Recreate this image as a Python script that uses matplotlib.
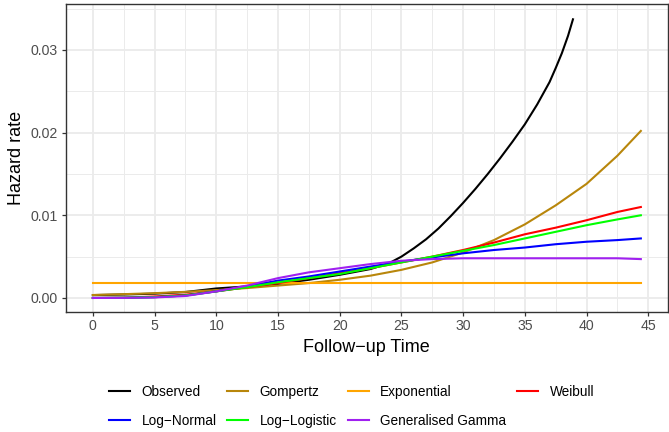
import matplotlib
matplotlib.use("Agg")
import matplotlib.pyplot as plt
from matplotlib.ticker import MultipleLocator, FormatStrFormatter

plt.rcParams['font.family'] = ['Liberation Sans', 'DejaVu Sans']

# Follow-up time grid for the fitted hazard curves
t_fit = [0, 2.5, 5, 7.5, 10, 12.5, 15, 17.5, 20, 22.5, 25, 27.5, 30,
         32.5, 35, 37.5, 40, 42.5, 44.4]

gompertz = [0.00036, 0.00046, 0.00058, 0.00074, 0.00095, 0.0012, 0.0015,
            0.0018, 0.0022, 0.0027, 0.0034, 0.0043, 0.0055, 0.0070, 0.0089,
            0.0112, 0.0138, 0.0172, 0.0202]
exponential = [0.00185] * len(t_fit)
weibull = [0.0, 0.00004, 0.00018, 0.0004, 0.0008, 0.0013, 0.0018, 0.0024,
           0.0030, 0.0036, 0.0043, 0.0050, 0.0058, 0.0067, 0.0077, 0.0085,
           0.0094, 0.0104, 0.0110]
log_normal = [0.0, 0.00002, 0.0001, 0.0003, 0.0008, 0.0014, 0.0021, 0.0026,
              0.0032, 0.0038, 0.0044, 0.0049, 0.0054, 0.0058, 0.0061, 0.0065,
              0.0068, 0.0070, 0.0072]
log_logistic = [0.0, 0.00003, 0.0001, 0.0003, 0.0008, 0.0013, 0.0019,
                0.0024, 0.0029, 0.0036, 0.0043, 0.0050, 0.0057, 0.0064,
                0.0072, 0.0080, 0.0088, 0.0095, 0.0100]
gen_gamma = [0.0, 0.00001, 0.00006, 0.00024, 0.0008, 0.0015, 0.0024, 0.0031,
             0.0036, 0.0041, 0.0045, 0.0047, 0.0048, 0.0048, 0.0048, 0.0048,
             0.0048, 0.0048, 0.0047]

# Observed (smoothed) hazard
t_obs = [0, 2.5, 5, 7.5, 10, 12.5, 15, 17.5, 20, 22.5, 24, 25, 26, 27, 28,
         29, 30, 31, 32, 33, 34, 35, 36, 37, 37.5, 38, 38.5, 38.9]
observed = [0.00035, 0.00042, 0.00052, 0.00072, 0.00115, 0.0014, 0.0017,
            0.0022, 0.0028, 0.0035, 0.0042, 0.0050, 0.0060, 0.0071, 0.0084,
            0.0099, 0.0115, 0.0132, 0.0150, 0.0169, 0.0189, 0.0210, 0.0234,
            0.0261, 0.0278, 0.0296, 0.0317, 0.0337]

series = [
    ("Observed", t_obs, observed, "black"),
    ("Gompertz", t_fit, gompertz, "#B8860B"),
    ("Exponential", t_fit, exponential, "#FFA500"),
    ("Weibull", t_fit, weibull, "#FF0000"),
    ("Log\u2212Normal", t_fit, log_normal, "#0000FF"),
    ("Log\u2212Logistic", t_fit, log_logistic, "#00FF00"),
    ("Generalised Gamma", t_fit, gen_gamma, "#A020F0"),
]

W, H = 669, 432
fig = plt.figure(figsize=(W / 100, H / 100), dpi=100)
left, right, top, bottom = 65.7, 668.0, 4.0, 311.7
ax = fig.add_axes([left / W, 1 - bottom / H, (right - left) / W, (bottom - top) / H])

handles = {}
for name, x, y, col in series:
    ln, = ax.plot(x, y, color=col, lw=1.5, zorder=3)
    handles[name] = ln

ax.set_xlim(-2.2, 46.6)
ax.set_ylim(-0.00166, 0.03555)

ax.xaxis.set_major_locator(MultipleLocator(5))
ax.xaxis.set_minor_locator(MultipleLocator(2.5))
ax.yaxis.set_major_locator(MultipleLocator(0.01))
ax.yaxis.set_minor_locator(MultipleLocator(0.005))
ax.yaxis.set_major_formatter(FormatStrFormatter('%.2f'))

ax.grid(which='major', color='#EBEBEB', lw=1.3, zorder=0)
ax.grid(which='minor', color='#EBEBEB', lw=0.7, zorder=0)
ax.set_axisbelow(True)

for s in ax.spines.values():
    s.set_color('#333333')
    s.set_linewidth(1.0)

ax.tick_params(which='major', length=3.0, width=0.9, color='#333333',
               labelcolor='#4D4D4D', labelsize=10.2, pad=2.5)
ax.tick_params(which='minor', length=0)

ax.set_xlabel("Follow\u2212up Time", fontsize=13, color='black', labelpad=4)
ax.set_ylabel("Hazard rate", fontsize=13, color='black', labelpad=4)

order = ["Observed", "Log\u2212Normal", "Gompertz", "Log\u2212Logistic",
         "Exponential", "Generalised Gamma", "Weibull"]
fig.legend([handles[k] for k in order], order, ncol=4, loc='center',
           bbox_to_anchor=(351.5 / W, 1 - 406.3 / H), frameon=False,
           fontsize=9.8, handlelength=1.55, handletextpad=0.85,
           columnspacing=0.78, labelspacing=1.1, borderpad=0)

fig.savefig("out.png", dpi=100, facecolor='white')
